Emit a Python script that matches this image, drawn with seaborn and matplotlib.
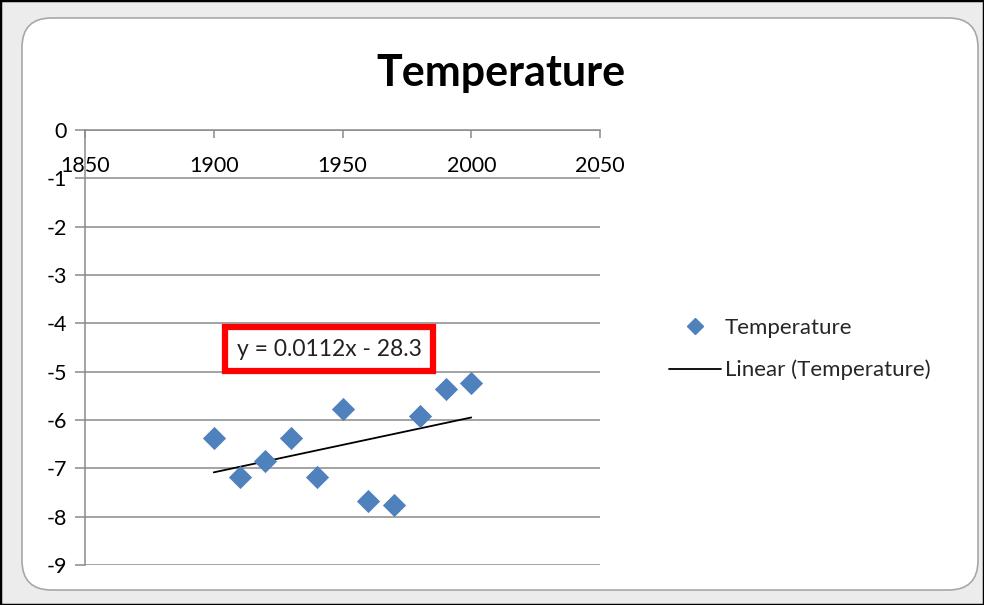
import numpy as np
import pandas as pd
import seaborn as sns
import matplotlib.pyplot as plt
from matplotlib.patches import FancyBboxPatch, Rectangle
from matplotlib.lines import Line2D

# data
years = [1900, 1910, 1920, 1930, 1940, 1950, 1960, 1970, 1980, 1990, 2000]
temps = [-6.37, -7.18, -6.85, -6.37, -7.18, -5.77, -7.68, -7.76, -5.92, -5.36, -5.23]
x_ticks = [1850, 1900, 1950, 2000, 2050]
y_ticks = [0, -1, -2, -3, -4, -5, -6, -7, -8, -9]
equation = "y = 0.0112x - 28.3"

df = pd.DataFrame({"Year": years, "Temperature": temps})

sns.set_theme(style="white")
plt.rcParams['font.family'] = ['Lato', 'DejaVu Sans']
plt.rcParams['axes.unicode_minus'] = False

W, H = 984, 605
fig = plt.figure(figsize=(W / 100, H / 100), dpi=100)
fig.patch.set_facecolor('#ececec')

# screenshot frame: black edge, rounded white chart area
fig.add_artist(Rectangle((0, 0), 1, 1, transform=fig.transFigure, fill=False,
                         ec='black', lw=2.5, zorder=0))
fig.add_artist(FancyBboxPatch((22 / W, 1 - 590 / H), (978 - 22) / W, (590 - 18) / H,
                              boxstyle='round,pad=0,rounding_size=0.03',
                              transform=fig.transFigure, fc='white', ec='#a8a8a8',
                              lw=1.2, zorder=0, mutation_aspect=W / H))

ax = fig.add_axes([85 / W, 1 - 565 / H, (600 - 85) / W, (565 - 130) / H])
ax.set_facecolor('none')

sns.scatterplot(data=df, x="Year", y="Temperature", ax=ax, marker='D', s=140,
                color='#4f81bd', edgecolor='#4f81bd', linewidth=0, zorder=4,
                legend=False)
sns.regplot(data=df, x="Year", y="Temperature", ax=ax, scatter=False, ci=None,
            truncate=True, line_kws=dict(color='black', lw=1.3, zorder=3))

ax.set_xlim(1850, 2050)
ax.set_ylim(-9, 0)
ax.set_xticks(x_ticks)
ax.set_yticks(y_ticks)
ax.set_xlabel('')
ax.set_ylabel('')

ax.grid(axis='y', color='#8a8a8a', lw=1.1)
ax.grid(axis='x', visible=False)
for side in ['top', 'right']:
    ax.spines[side].set_visible(False)
ax.spines['bottom'].set_position(('data', 0))
for side in ['bottom', 'left']:
    ax.spines[side].set_color('#8a8a8a')
    ax.spines[side].set_linewidth(1.1)

ax.tick_params(axis='x', direction='out', length=6, width=1.1, color='#8a8a8a',
               pad=13, labelsize=15.5, labelcolor='black', bottom=True)
ax.tick_params(axis='y', direction='out', length=7, width=1.1, color='#8a8a8a',
               pad=6, labelsize=15.5, labelcolor='black', left=True)

ax.text(1944.9, -4.54, equation, ha='center', va='center', fontsize=16.5,
        color='#222222', zorder=6,
        bbox=dict(boxstyle='square,pad=0.5', fc='white', ec='#ff0000', lw=4.5))

fig.text(501 / W, 1 - 73 / H, 'Temperature', ha='center', va='center',
         fontsize=31, fontweight='bold', color='black')

handles = [
    Line2D([], [], ls='none', marker='D', markersize=8, color='#4f81bd', mec='#4f81bd'),
    Line2D([], [], color='black', lw=1.3),
]
fig.legend(handles, ['Temperature', 'Linear (Temperature)'], loc='center left',
           bbox_to_anchor=(658 / W, 1 - 349 / H), frameon=False, fontsize=16,
           handlelength=2.35, handletextpad=0.15, labelspacing=1.0, borderpad=0)

fig.savefig('out.png', dpi=100, facecolor=fig.get_facecolor())
